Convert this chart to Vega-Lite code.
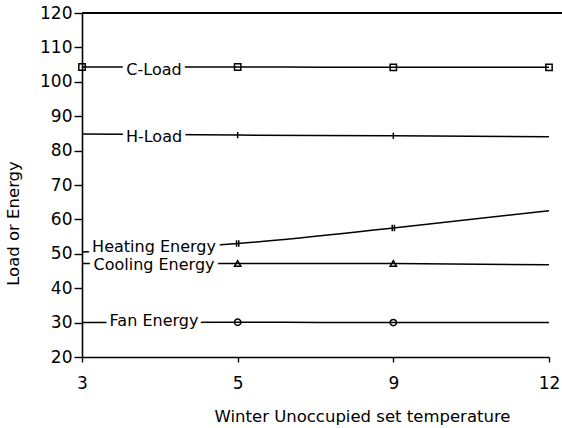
{
  "$schema": "https://vega.github.io/schema/vega-lite/v6.json",
  "autosize": {"type": "none"},
  "width": 480,
  "height": 344,
  "padding": {"left": 82, "top": 13, "right": 0, "bottom": 71},
  "background": "white",
  "config": {
    "view": {"stroke": null},
    "font": "DejaVu Sans",
    "axis": {"grid": false, "domainColor": "black", "domainWidth": 1.6, "tickColor": "black", "tickWidth": 1.4, "labelColor": "black", "titleColor": "black", "labelFont": "DejaVu Sans", "titleFont": "DejaVu Sans", "labelFontSize": 17, "titleFontSize": 16.5, "titleFontWeight": "normal"}
  },
  "datasets": {
    "series": [
      {"series": "C-Load", "temp": 3, "value": 104.3},
      {"series": "C-Load", "temp": 5, "value": 104.3},
      {"series": "C-Load", "temp": 9, "value": 104.2},
      {"series": "C-Load", "temp": 12, "value": 104.2},
      {"series": "H-Load", "temp": 3, "value": 84.8},
      {"series": "H-Load", "temp": 5, "value": 84.5},
      {"series": "H-Load", "temp": 9, "value": 84.3},
      {"series": "H-Load", "temp": 12, "value": 84.0},
      {"series": "Heating Energy", "temp": 3, "value": 50.5},
      {"series": "Heating Energy", "temp": 5, "value": 53.0},
      {"series": "Heating Energy", "temp": 9, "value": 57.5},
      {"series": "Heating Energy", "temp": 12, "value": 62.5},
      {"series": "Cooling Energy", "temp": 3, "value": 47.2},
      {"series": "Cooling Energy", "temp": 5, "value": 47.2},
      {"series": "Cooling Energy", "temp": 9, "value": 47.2},
      {"series": "Cooling Energy", "temp": 12, "value": 46.8},
      {"series": "Fan Energy", "temp": 3, "value": 30.0},
      {"series": "Fan Energy", "temp": 5, "value": 30.1},
      {"series": "Fan Energy", "temp": 9, "value": 30.0},
      {"series": "Fan Energy", "temp": 12, "value": 30.0}
    ],
    "labels": [
      {"series": "C-Load", "temp": 3, "value": 103.4},
      {"series": "H-Load", "temp": 3, "value": 84.0},
      {"series": "Heating Energy", "temp": 3, "value": 52.0},
      {"series": "Cooling Energy", "temp": 3, "value": 46.7},
      {"series": "Fan Energy", "temp": 3, "value": 30.6}
    ]
  },
  "encoding": {
    "x": {
      "field": "temp", "type": "ordinal",
      "scale": {"type": "point", "range": [0, 467], "padding": 0},
      "axis": {"labelAngle": 0, "tickSize": 5, "labelPadding": 13, "title": "Winter Unoccupied set temperature", "titleX": 280, "titleY": 59, "titleBaseline": "middle", "titleAlign": "center"}
    },
    "y": {
      "field": "value", "type": "quantitative",
      "scale": {"domain": [20, 120], "nice": false, "zero": false},
      "axis": {"values": [20, 30, 40, 50, 60, 70, 80, 90, 100, 110, 120], "tickSize": 8, "labelPadding": 2, "title": "Load or Energy", "titleX": -69, "titleY": 210, "titleBaseline": "middle", "titleAlign": "center", "titleAngle": -90}
    }
  },
  "layer": [
    {
      "data": {"name": "series"},
      "mark": {"type": "rule", "color": "black", "strokeWidth": 1.6},
      "encoding": {"x": null, "y": {"datum": 120}}
    },
    {
      "data": {"name": "series"},
      "mark": {"type": "line", "color": "black", "strokeWidth": 1.5, "interpolate": "monotone"},
      "encoding": {"detail": {"field": "series"}}
    },
    {
      "data": {"name": "series"},
      "transform": [{"filter": "datum.temp == 5 || datum.temp == 9 || datum.series == 'C-Load'"}],
      "mark": {"type": "point", "filled": false, "stroke": "black", "strokeWidth": 1.5, "size": 40, "opacity": 1},
      "encoding": {
        "shape": {
          "field": "series", "type": "nominal", "legend": null,
          "scale": {
            "domain": ["C-Load", "H-Load", "Heating Energy", "Cooling Energy", "Fan Energy"],
            "range": ["square", "M0,-1L0,1", "M-0.35,-1L-0.35,1M0.35,-1L0.35,1", "triangle-up", "circle"]
          }
        }
      }
    },
    {
      "data": {"name": "labels"},
      "mark": {"type": "text", "align": "center", "baseline": "middle", "dx": 72, "fontSize": 16, "fill": "white", "stroke": "white", "strokeWidth": 9, "font": "DejaVu Sans"},
      "encoding": {"text": {"field": "series"}}
    },
    {
      "data": {"name": "labels"},
      "mark": {"type": "text", "align": "center", "baseline": "middle", "dx": 72, "fontSize": 16, "fill": "black", "font": "DejaVu Sans"},
      "encoding": {"text": {"field": "series"}}
    }
  ]
}
